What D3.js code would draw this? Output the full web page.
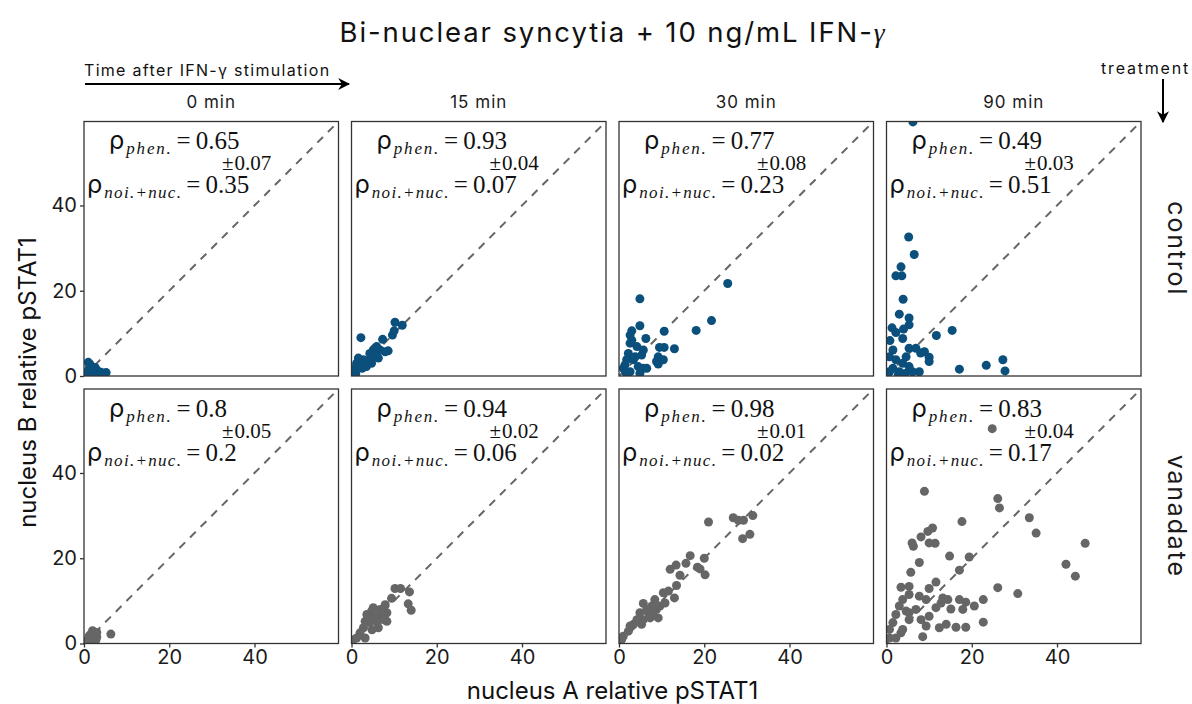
<!DOCTYPE html>
<html>
<head>
<meta charset="utf-8">
<script src="https://cdn.jsdelivr.net/npm/d3@7"></script>
<style>
  body { margin: 0; background: #fff; }
</style>
</head>
<body>
<div id="container"></div>
<script>
let w = 1192;
let h = 704;

let times = ["0 min", "15 min", "30 min", "90 min"];
let treatments = ["control", "vanadate"];
let colors = { control: "#0b4f7c", vanadate: "#666666" };
let ticks = [0, 20, 40];
let axisMax = 59.7;

// [nucleus A, nucleus B]
let control0 = [[1.4, 2.8], [1.0, 3.2], [3.0, 1.4], [5.2, 0.8], [0.8, 1.0], [2.2, 1.2], [4.0, 0.9], [0.5, 0.4], [1.8, 0.6], [3.4, 0.5], [2.6, 2.0], [1.2, 1.8]];
let control15 = [[2.2, 9.0], [10.2, 12.6], [11.9, 11.9], [9.6, 9.6], [10.0, 10.6], [7.3, 8.6], [8.6, 5.9], [5.5, 6.5], [6.7, 6.1], [4.3, 5.3], [5.1, 4.5], [5.9, 4.9], [3.9, 3.4], [2.8, 3.8], [1.6, 4.2], [1.2, 3.0], [2.0, 2.6], [3.2, 2.6], [4.7, 3.0], [0.8, 1.8], [0.4, 1.0], [2.5, 1.8], [3.5, 2.2], [6.3, 4.2], [7.9, 5.7], [5.1, 6.1], [5.9, 6.9], [1.0, 0.5], [4.4, 4.0]];
let control30 = [[4.9, 18.1], [25.5, 21.7], [21.7, 13.0], [18.1, 10.7], [10.6, 10.5], [4.9, 11.8], [3.0, 10.6], [2.6, 9.6], [6.3, 8.8], [13.0, 6.4], [10.6, 6.7], [9.5, 6.7], [5.7, 6.1], [4.2, 6.9], [2.6, 7.7], [2.2, 5.3], [9.2, 4.5], [10.4, 3.8], [8.8, 3.4], [9.2, 2.8], [1.8, 3.8], [1.4, 2.6], [1.0, 1.8], [3.4, 3.8], [4.5, 2.2], [5.7, 1.8], [4.9, 0.6], [2.6, 1.0], [3.8, 4.5], [5.3, 4.9], [6.5, 1.8], [3.0, 8.4], [1.6, 0.8]];
let control90 = [[6.2, 59.6], [5.2, 32.6], [6.5, 28.5], [3.4, 25.6], [2.2, 23.5], [3.6, 23.5], [3.9, 18.0], [3.0, 14.5], [5.3, 13.6], [5.3, 12.0], [1.3, 11.3], [4.0, 11.0], [15.4, 10.7], [11.7, 9.5], [2.2, 10.2], [3.8, 8.8], [0.8, 8.3], [8.9, 5.7], [10.0, 4.4], [10.0, 3.4], [27.3, 3.8], [23.4, 2.5], [17.1, 1.6], [27.8, 1.2], [7.7, 1.0], [5.3, 6.5], [6.9, 6.5], [1.5, 6.1], [0.7, 4.5], [2.2, 3.8], [3.8, 3.0], [5.3, 2.2], [1.5, 1.8], [3.0, 1.0], [6.1, 1.0], [0.7, 1.0], [4.6, 4.5], [8.0, 5.4], [2.8, 0.4], [4.4, 0.6]];
let vanadate0 = [[1.0, 1.0], [1.5, 2.0], [2.0, 3.0], [2.5, 2.5], [3.0, 1.5], [1.0, 0.5], [2.0, 1.0], [3.0, 2.6], [6.3, 2.2], [0.5, 0.3], [1.2, 1.8], [2.8, 0.8], [1.8, 2.4]];
let vanadate15 = [[10.2, 12.9], [11.5, 12.9], [13.6, 12.1], [9.4, 10.6], [7.9, 9.1], [13.3, 9.3], [14.0, 7.8], [8.3, 7.2], [5.1, 8.4], [3.6, 6.8], [6.7, 8.0], [5.9, 6.4], [3.2, 5.2], [4.3, 4.9], [8.3, 5.2], [6.3, 3.7], [2.8, 3.7], [2.0, 2.5], [3.2, 1.3], [1.2, 1.3], [0.4, 0.9], [5.1, 6.0], [7.1, 7.2], [4.7, 7.6], [7.5, 5.6], [4.0, 6.0], [6.0, 5.0], [4.8, 3.2]];
let vanadate30 = [[21.0, 28.5], [26.8, 29.5], [28.0, 28.9], [29.2, 28.9], [31.4, 30.0], [29.0, 24.6], [30.7, 25.6], [16.7, 20.6], [20.0, 20.0], [15.7, 18.8], [13.4, 18.4], [12.0, 17.4], [18.4, 17.9], [19.0, 17.5], [20.2, 16.1], [14.3, 16.0], [13.5, 13.6], [13.0, 10.7], [11.6, 12.3], [10.4, 11.9], [8.4, 10.3], [10.8, 9.5], [5.7, 9.4], [7.7, 8.8], [8.8, 8.0], [9.2, 6.0], [6.9, 7.2], [4.9, 7.2], [5.7, 5.6], [7.3, 6.0], [4.2, 5.6], [3.4, 4.5], [5.3, 4.5], [2.2, 2.9], [1.0, 1.7], [0.6, 0.9], [2.6, 4.1], [8.0, 6.8], [9.6, 8.8], [6.5, 8.0]];
let vanadate90 = [[24.8, 50.4], [8.9, 35.7], [26.1, 34.0], [26.5, 31.8], [33.5, 29.5], [35.1, 25.9], [46.6, 23.5], [17.7, 28.6], [10.8, 27.1], [9.7, 26.3], [8.1, 25.0], [11.4, 23.5], [6.0, 23.6], [6.3, 22.8], [10.0, 23.6], [14.8, 20.5], [19.4, 20.3], [7.7, 19.0], [17.1, 17.2], [5.7, 16.7], [42.1, 18.6], [44.3, 15.8], [11.6, 14.4], [3.4, 13.2], [5.3, 13.4], [10.0, 12.9], [26.1, 13.1], [30.8, 11.7], [5.3, 11.5], [7.7, 11.1], [3.8, 10.3], [9.3, 10.3], [14.4, 10.3], [18.6, 9.7], [20.6, 8.8], [22.7, 10.3], [17.9, 8.0], [12.8, 9.5], [11.6, 8.4], [15.1, 8.1], [3.0, 8.8], [4.6, 7.6], [6.9, 8.0], [2.2, 6.8], [5.3, 5.6], [8.1, 5.6], [10.0, 6.4], [9.3, 4.1], [12.4, 3.7], [14.0, 4.5], [16.3, 3.8], [18.6, 3.8], [22.7, 5.0], [8.5, 1.6], [1.5, 4.9], [0.7, 3.3], [3.8, 3.3], [2.2, 1.3], [0.7, 1.3], [3.4, 2.5], [5.3, 7.2], [13.2, 10.7], [17.1, 10.3]];

let panelData = {
  control: [control0, control15, control30, control90],
  vanadate: [vanadate0, vanadate15, vanadate30, vanadate90]
};

let rhoPhen = { control: ["0.65", "0.93", "0.77", "0.49"], vanadate: ["0.8", "0.94", "0.98", "0.83"] };
let rhoErr = { control: ["0.07", "0.04", "0.08", "0.03"], vanadate: ["0.05", "0.02", "0.01", "0.04"] };
let rhoNoise = { control: ["0.35", "0.07", "0.23", "0.51"], vanadate: ["0.2", "0.06", "0.02", "0.17"] };

let sansFont = "Inter, 'Noto Sans', sans-serif";
let serifFont = "'Liberation Serif', 'DejaVu Serif', serif";

let panelW = 254.5;
let panelH = 254.5;
let panelLeft = 84;
let panelStep = 267.5;
let rowTops = [121.5, 389];

let viz = d3.select("#container")
  .append("svg")
  .attr("width", w)
  .attr("height", h)
  .style("background-color", "white");

let x = d3.scaleLinear().domain([0, axisMax]).range([0, panelW]);
let y = d3.scaleLinear().domain([0, axisMax]).range([panelH, 0]);

// title
viz.append("text")
  .text("Bi-nuclear syncytia + 10 ng/mL IFN-")
  .attr("x", 613)
  .attr("y", 42)
  .attr("text-anchor", "middle")
  .attr("font-family", sansFont)
  .attr("font-size", "27.5px")
  .attr("letter-spacing", "1.9px")
  .attr("fill", "#111")
  .append("tspan")
  .text("γ")
  .attr("font-family", serifFont)
  .attr("font-style", "italic");

// arrows
let defs = viz.append("defs");
defs.append("marker")
  .attr("id", "arrowhead")
  .attr("viewBox", "0 0 10 10")
  .attr("refX", 9)
  .attr("refY", 5)
  .attr("markerWidth", 12)
  .attr("markerHeight", 12)
  .attr("markerUnits", "userSpaceOnUse")
  .attr("orient", "auto")
  .append("path")
  .attr("d", "M0,0 L10,5 L0,10 L3,5 Z")
  .attr("fill", "#000");

viz.append("text")
  .text("Time after IFN-γ stimulation")
  .attr("x", 84)
  .attr("y", 76)
  .attr("font-family", sansFont)
  .attr("font-size", "16px")
  .attr("letter-spacing", "1.3px")
  .attr("fill", "#111");

viz.append("line")
  .attr("x1", 85).attr("y1", 84)
  .attr("x2", 349).attr("y2", 84)
  .attr("stroke", "#000")
  .attr("stroke-width", 2)
  .attr("marker-end", "url(#arrowhead)");

viz.append("text")
  .text("treatment")
  .attr("x", 1190)
  .attr("y", 74)
  .attr("text-anchor", "end")
  .attr("font-family", sansFont)
  .attr("font-size", "16px")
  .attr("letter-spacing", "1.8px")
  .attr("fill", "#111");

viz.append("line")
  .attr("x1", 1163).attr("y1", 79)
  .attr("x2", 1163).attr("y2", 122)
  .attr("stroke", "#000")
  .attr("stroke-width", 2)
  .attr("marker-end", "url(#arrowhead)");

// column strips
times.forEach((t, i) => {
  viz.append("text")
    .text(t)
    .attr("x", panelLeft + i * panelStep + panelW / 2)
    .attr("y", 108)
    .attr("text-anchor", "middle")
    .attr("font-family", sansFont)
    .attr("font-size", "17px")
    .attr("letter-spacing", "1px")
    .attr("fill", "#1a1a1a");
});

// row strips
treatments.forEach((tr, r) => {
  let cy = rowTops[r] + panelH / 2;
  viz.append("text")
    .text(tr)
    .attr("transform", `translate(1168, ${cy}) rotate(90)`)
    .attr("text-anchor", "middle")
    .attr("font-family", sansFont)
    .attr("font-size", "25px")
    .attr("letter-spacing", "1.8px")
    .attr("fill", "#1a1a1a");
});

function rhoLabel(g, lx, ly, sub, value, spacing) {
  let t = g.append("text")
    .attr("x", lx)
    .attr("y", ly)
    .attr("font-family", serifFont)
    .attr("font-size", "25px")
    .attr("fill", "#111");
  t.append("tspan").text("ρ").attr("font-family", sansFont).attr("font-size", "25px");
  t.append("tspan").text(sub)
    .attr("font-style", "italic")
    .attr("font-size", "17px")
    .attr("letter-spacing", spacing + "px")
    .attr("dy", 5).attr("dx", 2);
  t.append("tspan").text("=").attr("dy", -5).attr("dx", 4);
  t.append("tspan").text(value).attr("dx", 5);
}

treatments.forEach((tr, r) => {
  times.forEach((t, c) => {
    let px = panelLeft + c * panelStep;
    let py = rowTops[r];
    let g = viz.append("g").attr("transform", `translate(${px}, ${py})`);
    let clipId = `clip-${r}-${c}`;
    defs.append("clipPath").attr("id", clipId)
      .append("rect").attr("width", panelW).attr("height", panelH);

    let inner = g.append("g").attr("clip-path", `url(#${clipId})`);

    // identity line
    inner.append("line")
      .attr("x1", x(0)).attr("y1", y(0))
      .attr("x2", x(axisMax)).attr("y2", y(axisMax))
      .attr("stroke", "#666")
      .attr("stroke-width", 2)
      .attr("stroke-dasharray", "8,7");

    inner.selectAll("circle")
      .data(panelData[tr][c])
      .enter()
      .append("circle")
      .attr("cx", d => x(d[0]))
      .attr("cy", d => y(d[1]))
      .attr("r", 4.5)
      .attr("fill", colors[tr]);

    // annotations
    rhoLabel(g, 25, 27.5, "phen.", rhoPhen[tr][c], 1.8);

    let l2 = g.append("text")
      .attr("x", 138)
      .attr("y", 48.5)
      .attr("font-family", serifFont)
      .attr("font-size", "21px")
      .attr("fill", "#111");
    l2.append("tspan").text("±");
    l2.append("tspan").text(rhoErr[tr][c]).attr("dx", 1);

    rhoLabel(g, 3, 71.5, "noi.+nuc.", rhoNoise[tr][c], 1.3);

    // panel border
    g.append("rect")
      .attr("width", panelW)
      .attr("height", panelH)
      .attr("fill", "none")
      .attr("stroke", "#333")
      .attr("stroke-width", 1.3);

    if (c === 0) {
      let ya = g.append("g")
        .call(d3.axisLeft(y).tickValues(ticks).tickSize(4).tickPadding(3));
      ya.select(".domain").remove();
      ya.selectAll("line").attr("stroke", "#333").attr("stroke-width", 1.3);
      ya.selectAll("text").attr("font-family", sansFont).attr("font-size", "20px").attr("fill", "#1a1a1a");
    }
    if (r === 1) {
      let xa = g.append("g")
        .attr("transform", `translate(0, ${panelH})`)
        .call(d3.axisBottom(x).tickValues(ticks).tickSize(4).tickPadding(2));
      xa.select(".domain").remove();
      xa.selectAll("line").attr("stroke", "#333").attr("stroke-width", 1.3);
      xa.selectAll("text").attr("font-family", sansFont).attr("font-size", "20px").attr("fill", "#1a1a1a");
    }
  });
});

// axis titles
viz.append("text")
  .text("nucleus A relative pSTAT1")
  .attr("x", panelLeft + (3 * panelStep + panelW) / 2)
  .attr("y", 699)
  .attr("text-anchor", "middle")
  .attr("font-family", sansFont)
  .attr("font-size", "24px")
  .attr("fill", "#111");

viz.append("text")
  .text("nucleus B relative pSTAT1")
  .attr("transform", `translate(36, ${(rowTops[0] + rowTops[1] + panelH) / 2}) rotate(-90)`)
  .attr("text-anchor", "middle")
  .attr("font-family", sansFont)
  .attr("font-size", "24px")
  .attr("fill", "#111");
</script>
</body>
</html>
